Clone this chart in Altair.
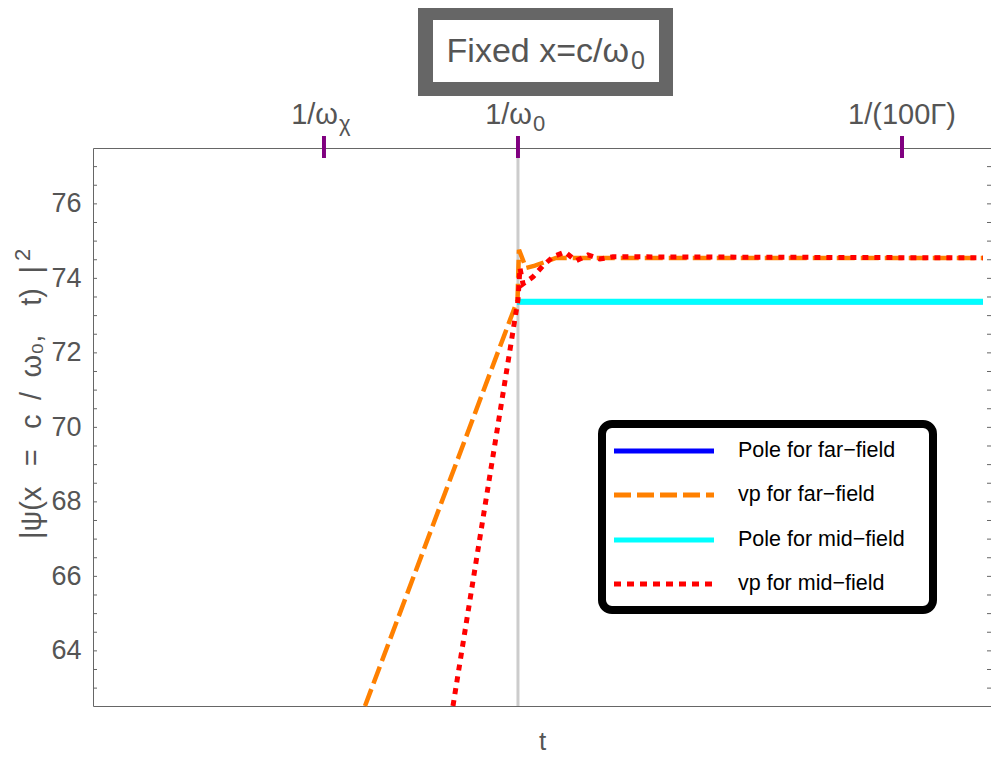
import altair as alt
import pandas as pd

# ---------------- data ----------------
t_vp_far = [30.09, 46.96, 47.12, 47.90, 48.89, 50.00, 51.22, 98.45]
psi_vp_far = [62.52, 73.42, 74.77, 74.28, 74.34, 74.44, 74.55, 74.55]

t_vp_mid = [39.82, 47.01, 47.23, 47.57, 48.67, 49.78, 50.88, 52.21, 53.43, 54.76, 56.08, 57.52, 98.45]
psi_vp_mid = [62.52, 73.42, 74.28, 73.85, 74.04, 74.34, 74.58, 74.71, 74.47, 74.63, 74.52, 74.58, 74.55]

t_pole = [46.90, 98.45]
psi_pole_far = [73.37, 73.37]
psi_pole_mid = [73.37, 73.37]

t_marker = [47.01]

top_tick_t = [25.55, 47.01, 89.49]
top_tick_base = ["1/ω", "1/ω", "1/(100Γ)"]
top_tick_sub = ["χ", "0", ""]

y_label_values = [64, 66, 68, 70, 72, 74, 76]
y_minor_values = [63.0, 63.5, 64.0, 64.5, 65.0, 65.5, 66.0, 66.5, 67.0, 67.5, 68.0, 68.5,
                  69.0, 69.5, 70.0, 70.5, 71.0, 71.5, 72.0, 72.5, 73.0, 73.5, 74.0, 74.5,
                  75.0, 75.5, 76.0, 76.5, 77.0]

legend_labels = ["Pole for far\u2212field", "vp for far\u2212field",
                 "Pole for mid\u2212field", "vp for mid\u2212field"]
legend_colors = ["#0000FF", "#FF8000", "#00FFFF", "#FF0000"]

title_base = "Fixed x=c/ω"
title_sub = "0"
x_title = "t"
y_title_main = "|ψ(x\u2002\u2009=\u2002\u2009c\u2002/\u2002ω₀,\u2003t)\u2002|"
y_title_sup = "2"

# ---------------- layout ----------------
FONT = "Liberation Sans"
GREY = "#555555"
W, H = 898, 558

xs = alt.Scale(domain=[0, 100 * W / 904], nice=False, zero=False)
ys = alt.Scale(domain=[62.52, 77.5], nice=False, zero=False)

x_axis = alt.Axis(title=x_title, labels=False, ticks=False, domain=False, grid=False,
                  titleFontSize=26, titleColor=GREY, titleFont=FONT,
                  titleFontWeight="normal", titlePadding=22)
y_axis = alt.Axis(title="", values=y_label_values, ticks=False, domain=False, grid=False,
                  labelFontSize=27, labelColor=GREY, labelFont=FONT, labelPadding=12)

X = alt.X("t:Q", scale=xs, axis=x_axis)
Y = alt.Y("psi:Q", scale=ys, axis=y_axis)

one = pd.DataFrame({"a": [0]})

layers = []

# grey vertical marker at 1/omega0
layers.append(alt.Chart(pd.DataFrame({"t": t_marker})).mark_rule(
    color="#cccccc", strokeWidth=3).encode(x=X))

# minor ticks (left and right frame)
minor_df = pd.DataFrame({"psi": y_minor_values})
layers.append(alt.Chart(minor_df).mark_rule(color="#666666", strokeWidth=1).encode(
    y=Y, x=alt.value(0), x2=alt.value(4)))
layers.append(alt.Chart(minor_df).mark_rule(color="#666666", strokeWidth=1).encode(
    y=Y, x=alt.value(W - 4), x2=alt.value(W)))

# pole lines
layers.append(alt.Chart(pd.DataFrame({"t": t_pole, "psi": psi_pole_far})).mark_line(
    color="#0000FF", strokeWidth=5).encode(x=X, y=Y))
layers.append(alt.Chart(pd.DataFrame({"t": t_pole, "psi": psi_pole_mid})).mark_line(
    color="#00FFFF", strokeWidth=6).encode(x=X, y=Y))

# vp lines
layers.append(alt.Chart(pd.DataFrame({"t": t_vp_far, "psi": psi_vp_far})).mark_line(
    color="#FF8000", strokeWidth=4.5, strokeDash=[18, 6], strokeCap="butt").encode(x=X, y=Y))
layers.append(alt.Chart(pd.DataFrame({"t": t_vp_mid, "psi": psi_vp_mid})).mark_line(
    color="#FF0000", strokeWidth=5, strokeDash=[6, 6], strokeCap="butt").encode(x=X, y=Y))

# top purple ticks with labels
layers.append(alt.Chart(pd.DataFrame({"t": top_tick_t})).mark_rule(
    color="#800080", strokeWidth=4).encode(x=X, y=alt.value(-12), y2=alt.value(10)))

label_dx = [14, 14, 0]
for i in range(len(top_tick_t)):
    df = pd.DataFrame({"t": [top_tick_t[i]], "base": [top_tick_base[i]], "sub": [top_tick_sub[i]]})
    if top_tick_sub[i]:
        layers.append(alt.Chart(df).mark_text(
            align="right", baseline="alphabetic", fontSize=29, font=FONT, color=GREY,
            dx=label_dx[i]).encode(x=X, y=alt.value(-24), text="base:N"))
        layers.append(alt.Chart(df).mark_text(
            align="left", baseline="alphabetic", fontSize=22, font=FONT, color=GREY,
            dx=label_dx[i] + 1).encode(x=X, y=alt.value(-17), text="sub:N"))
    else:
        layers.append(alt.Chart(df).mark_text(
            align="center", baseline="alphabetic", fontSize=29, font=FONT, color=GREY
        ).encode(x=X, y=alt.value(-24), text="base:N"))

# y-axis title (rotated, with raised exponent)
ydf = pd.DataFrame({"main": [y_title_main], "sup": [y_title_sup]})
layers.append(alt.Chart(ydf).mark_text(
    align="right", baseline="alphabetic", angle=270, fontSize=29, font=FONT, color=GREY).encode(
    x=alt.value(-52), y=alt.value(118), text="main:N"))
layers.append(alt.Chart(ydf).mark_text(
    align="left", baseline="alphabetic", angle=270, fontSize=22, font=FONT, color=GREY).encode(
    x=alt.value(-63), y=alt.value(113), text="sup:N"))

# title box
layers.append(alt.Chart(one).mark_rect(color="#666666").encode(
    x=alt.value(325), x2=alt.value(580), y=alt.value(-140), y2=alt.value(-52)))
layers.append(alt.Chart(one).mark_rect(color="#ffffff").encode(
    x=alt.value(340), x2=alt.value(566), y=alt.value(-128), y2=alt.value(-66)))
tdf = pd.DataFrame({"base": [title_base], "sub": [title_sub]})
layers.append(alt.Chart(tdf).mark_text(
    align="right", baseline="alphabetic", fontSize=34, font=FONT, color=GREY).encode(
    x=alt.value(536), y=alt.value(-86), text="base:N"))
layers.append(alt.Chart(tdf).mark_text(
    align="left", baseline="alphabetic", fontSize=25, font=FONT, color=GREY).encode(
    x=alt.value(538), y=alt.value(-79), text="sub:N"))

# legend
layers.append(alt.Chart(one).mark_rect(
    fill="#ffffff", stroke="#000000", strokeWidth=8, cornerRadius=10).encode(
    x=alt.value(509), x2=alt.value(840), y=alt.value(276), y2=alt.value(462)))
row_y = [303, 347, 392, 436]
dashes = [[1, 0], [17, 6], [1, 0], [7, 6]]
for i, lab in enumerate(legend_labels):
    ldf = pd.DataFrame({"label": [lab]})
    layers.append(alt.Chart(ldf).mark_rule(
        color=legend_colors[i], strokeWidth=5, strokeDash=dashes[i], strokeCap="butt"
    ).encode(x=alt.value(521), x2=alt.value(621), y=alt.value(row_y[i])))
    layers.append(alt.Chart(ldf).mark_text(
        align="left", baseline="middle", fontSize=21.5, font=FONT, color="#000000"
    ).encode(x=alt.value(645), y=alt.value(row_y[i]), text="label:N"))

chart = alt.layer(*layers).properties(
    width=W, height=H,
    autosize=alt.AutoSizeParams(type="none"),
    padding={"left": 85, "top": 140, "right": 0, "bottom": 52},
).configure_view(stroke="#666666", strokeWidth=1)

chart.save("out.html", embed_options={"renderer": "svg", "actions": False})
